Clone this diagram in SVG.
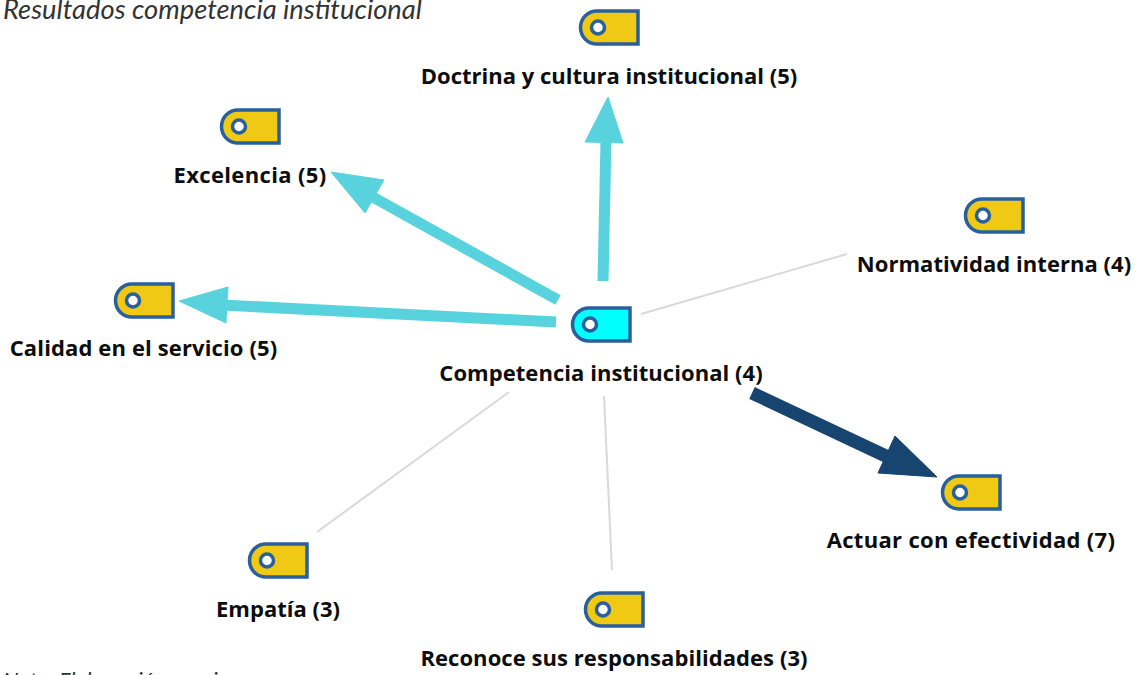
<svg xmlns="http://www.w3.org/2000/svg" width="1137" height="675" viewBox="0 0 1137 675">
<style>
.lbl{font-family:"Open Sans","Noto Sans",sans-serif;font-weight:700;font-size:22px;fill:#0d0d0d;text-anchor:middle}
.cap{font-family:Lato,sans-serif;font-style:italic;font-size:27.300px;fill:#333}
.tag{fill:#efc914;stroke:#2a5f9e;stroke-width:3.500}
.tag.on{fill:#00ffff}
.hole{fill:#fff;stroke:#2a5f9e;stroke-width:3.500}
.thin{stroke:#d9d9d9;stroke-width:2;fill:none}
.cy{stroke:#58d3de;fill:#58d3de}
.nv{stroke:#17456f;fill:#17456f}
</style>
<defs>
<g id="t"><path class="tag" d="M17 2H58V35H17A16.500 16.500 0 0 1 17 2Z"/><circle class="hole" cx="18" cy="18.500" r="6.500"/></g>
</defs>
<rect width="1137" height="675" fill="#fff"/>
<text class="cap" x="3" y="18.500">Resultados competencia institucional</text>
<text class="cap" x="3" y="688" style="font-size:22px">Nota. Elaboración propia</text>
<g id="connectors">
<line class="thin" x1="641" y1="314" x2="847" y2="254"/>
<line class="thin" x1="509" y1="392" x2="317" y2="532"/>
<line class="thin" x1="604" y1="396" x2="612" y2="570"/>
<line class="cy" x1="603" y1="281" x2="606" y2="140" stroke-width="11"/>
<polygon class="cy" stroke-width="1" points="608,97 623,143 585,142"/>
<line class="cy" x1="558" y1="300" x2="362" y2="191" stroke-width="11"/>
<polygon class="cy" stroke-width="1" points="331,172 384,180 365,213"/>
<line class="cy" x1="556" y1="322" x2="222" y2="305" stroke-width="11"/>
<polygon class="cy" stroke-width="1" points="179,301 228,287 226,323"/>
<line class="nv" x1="752" y1="393" x2="890" y2="458" stroke-width="13"/>
<polygon class="nv" stroke-width="1" points="937,477 895,436 878,473"/>
</g>
<g id="n-doctrina"><use href="#t" x="580" y="9"/><text class="lbl" x="609" y="84">Doctrina y cultura institucional (5)</text></g>
<g id="n-excelencia"><use href="#t" x="221" y="108"/><text class="lbl" x="250" y="183" style="letter-spacing:.35px">Excelencia (5)</text></g>
<g id="n-normatividad"><use href="#t" x="965" y="197"/><text class="lbl" x="994" y="272" style="letter-spacing:.04px">Normatividad interna (4)</text></g>
<g id="n-calidad"><use href="#t" x="115" y="282"/><text class="lbl" x="143.500" y="356" style="letter-spacing:.13px">Calidad en el servicio (5)</text></g>
<g id="n-competencia"><path class="tag on" d="M589 308H630V341H589A16.500 16.500 0 0 1 589 308Z"/><circle class="hole" cx="590" cy="324.500" r="6.500"/><text class="lbl" x="601" y="381" style="letter-spacing:.05px">Competencia institucional (4)</text></g>
<g id="n-actuar"><use href="#t" x="942" y="474"/><text class="lbl" x="971" y="548" style="letter-spacing:.32px">Actuar con efectividad (7)</text></g>
<g id="n-empatia"><use href="#t" x="249" y="542"/><text class="lbl" x="278" y="617">Empatía (3)</text></g>
<g id="n-reconoce"><use href="#t" x="585" y="591"/><text class="lbl" x="614" y="666" style="letter-spacing:.06px">Reconoce sus responsabilidades (3)</text></g>
</svg>
